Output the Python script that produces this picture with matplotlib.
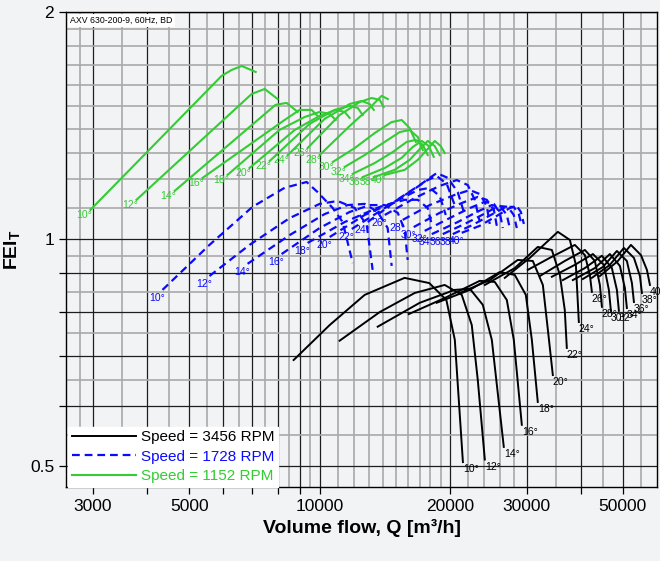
import matplotlib
matplotlib.use('Agg')
import matplotlib.pyplot as plt
from matplotlib.ticker import FixedLocator, FixedFormatter, NullFormatter

plt.rcParams['font.family'] = ['Liberation Sans', 'DejaVu Sans']
plt.rcParams['mathtext.fontset'] = 'custom'
plt.rcParams['mathtext.rm'] = 'Liberation Sans'
plt.rcParams['mathtext.bf'] = 'Liberation Sans:bold'

angles = [10, 12, 14, 16, 18, 20, 22, 24, 26, 28, 30, 32, 34, 36, 38, 40]

# 3456 RPM (black), volume flow [m3/h] and FEI per blade angle
q_3456 = [
    [8710, 10550, 12700, 15700, 17900, 19600, 20500, 21400],
    [11120, 13760, 16570, 19430, 21270, 22430, 23160, 24040],
    [13610, 17020, 20490, 22200, 23780, 24950, 26590],
    [16050, 19430, 23410, 25350, 27020, 28040, 29260],
    [18620, 22200, 26030, 28190, 29890, 30860, 31850],
    [21050, 24680, 28640, 31020, 32720, 33600, 34500],
    [24040, 28190, 31850, 34320, 35810, 36760, 37160],
    [26730, 30530, 35430, 37770, 38990, 39610],
    [30210, 33960, 38780, 40900, 42000, 42450],
    [32200, 36760, 40900, 43130, 44290, 44770],
    [34320, 38780, 42680, 45240, 46460, 46960],
    [36380, 40900, 44770, 47210, 48480, 49000],
    [38370, 43130, 46710, 49260, 50580, 51120],
    [40470, 45000, 48480, 51120, 52510, 53070],
    [42450, 46710, 50310, 53070, 54790, 55370],
    [44290, 48740, 52230, 55080, 56860, 57780],
]
fei_3456 = [
    [0.691, 0.769, 0.843, 0.888, 0.874, 0.830, 0.735, 0.506],
    [0.733, 0.800, 0.848, 0.869, 0.843, 0.769, 0.650, 0.510],
    [0.765, 0.823, 0.856, 0.859, 0.818, 0.735, 0.530],
    [0.795, 0.835, 0.880, 0.877, 0.830, 0.735, 0.567],
    [0.823, 0.856, 0.904, 0.896, 0.843, 0.735, 0.608],
    [0.848, 0.882, 0.938, 0.935, 0.869, 0.758, 0.660],
    [0.869, 0.915, 0.976, 0.967, 0.896, 0.805, 0.717],
    [0.888, 0.944, 1.022, 0.997, 0.924, 0.776],
    [0.910, 0.944, 0.982, 0.952, 0.896, 0.851],
    [0.893, 0.935, 0.967, 0.935, 0.869, 0.813],
    [0.891, 0.924, 0.955, 0.924, 0.856, 0.803],
    [0.882, 0.915, 0.950, 0.915, 0.856, 0.803],
    [0.882, 0.915, 0.955, 0.921, 0.861, 0.810],
    [0.885, 0.918, 0.964, 0.935, 0.874, 0.825],
    [0.888, 0.924, 0.973, 0.944, 0.893, 0.848],
    [0.893, 0.935, 0.982, 0.952, 0.910, 0.869],
]

# 1728 RPM (blue dashed)
q_1728 = [
    [4340, 5570, 7000, 8300, 9330, 9890, 10720, 11300, 11920],
    [5570, 6890, 8530, 10000, 11000, 12050, 12840, 13250],
    [6820, 8530, 10270, 11600, 12700, 13610, 14350, 14660],
    [8170, 10000, 11730, 13040, 14130, 15140, 15710, 15960],
    [9380, 11420, 13760, 15710, 16840, 17750, 18140],
    [10550, 12700, 14900, 16840, 17940, 18920, 19540],
    [11860, 14130, 16130, 17750, 18620, 19640, 20490],
    [12910, 15300, 17020, 18620, 19750, 20820, 21610],
    [14130, 16570, 18920, 20710, 21960, 22790, 23410],
    [15550, 17940, 20490, 22200, 23410, 24290, 24680],
    [16480, 18920, 21270, 23160, 24290, 25220, 25620],
    [17470, 19960, 22200, 24040, 25220, 26030, 26450],
    [18140, 20820, 23040, 24950, 26170, 27020, 27450],
    [19230, 21610, 23910, 25890, 27160, 28040, 28490],
    [20280, 22550, 24820, 26880, 28040, 28800, 29260],
    [21270, 23410, 25620, 27450, 28490, 29110, 29580],
]
fei_1728 = [
    [0.856, 0.982, 1.103, 1.169, 1.190, 1.154, 1.099, 1.053, 0.929],
    [0.893, 0.982, 1.066, 1.113, 1.123, 1.099, 1.044, 0.910],
    [0.927, 1.012, 1.079, 1.109, 1.113, 1.086, 1.034, 0.921],
    [0.955, 1.034, 1.086, 1.109, 1.109, 1.083, 1.028, 0.938],
    [0.988, 1.053, 1.103, 1.127, 1.127, 1.099, 1.044],
    [1.006, 1.076, 1.120, 1.161, 1.169, 1.140, 1.076],
    [1.031, 1.099, 1.154, 1.197, 1.212, 1.183, 1.109],
    [1.053, 1.133, 1.179, 1.223, 1.205, 1.154, 1.076],
    [1.076, 1.133, 1.176, 1.197, 1.179, 1.127, 1.053],
    [1.060, 1.109, 1.144, 1.161, 1.147, 1.106, 1.047],
    [1.037, 1.083, 1.116, 1.137, 1.127, 1.093, 1.041],
    [1.025, 1.066, 1.099, 1.120, 1.113, 1.083, 1.034],
    [1.015, 1.053, 1.086, 1.109, 1.103, 1.076, 1.034],
    [1.015, 1.047, 1.079, 1.106, 1.103, 1.076, 1.034],
    [1.015, 1.044, 1.076, 1.103, 1.103, 1.079, 1.041],
    [1.019, 1.041, 1.073, 1.099, 1.106, 1.086, 1.047],
]

# 1152 RPM (green)
q_1152 = [
    [2960, 5940, 6260, 6610, 7120],
    [3780, 6970, 7470, 8000],
    [4630, 7910, 8390, 8900],
    [5370, 8300, 8990, 9580, 9890],
    [6130, 8080, 9230, 10000, 10550, 10890],
    [6890, 8760, 10000, 10890, 11420, 11730],
    [7670, 9480, 10830, 11730, 12240, 12570],
    [8440, 10270, 11730, 12500, 13040, 13330],
    [9380, 11120, 12370, 13180, 13760, 14050],
    [10000, 11730, 13040, 13900, 14360],
    [10720, 12050, 13400, 14660, 15460, 16130, 16660],
    [11420, 12700, 14130, 15300, 16130, 16840, 17290],
    [11920, 13400, 14740, 15880, 16660, 17290, 17750],
    [12570, 14130, 15460, 16390, 17200, 17850, 18330],
    [13330, 14900, 16130, 17020, 17750, 18430, 18920],
    [14130, 15710, 16840, 17750, 18430, 19020, 19430],
]
fei_1152 = [
    [1.093, 1.645, 1.675, 1.696, 1.665],
    [1.127, 1.557, 1.581, 1.533],
    [1.158, 1.506, 1.515, 1.474],
    [1.205, 1.438, 1.483, 1.483, 1.456],
    [1.216, 1.395, 1.451, 1.474, 1.465, 1.438],
    [1.242, 1.395, 1.456, 1.483, 1.474, 1.447],
    [1.269, 1.421, 1.483, 1.501, 1.492, 1.460],
    [1.292, 1.443, 1.510, 1.524, 1.510, 1.483],
    [1.320, 1.460, 1.519, 1.538, 1.529, 1.496],
    [1.292, 1.412, 1.492, 1.548, 1.533],
    [1.265, 1.320, 1.382, 1.429, 1.438, 1.403, 1.345],
    [1.246, 1.292, 1.345, 1.386, 1.395, 1.365, 1.312],
    [1.220, 1.261, 1.304, 1.345, 1.353, 1.333, 1.292],
    [1.208, 1.242, 1.281, 1.324, 1.349, 1.328, 1.285],
    [1.208, 1.235, 1.273, 1.316, 1.349, 1.328, 1.292],
    [1.216, 1.235, 1.273, 1.316, 1.349, 1.328, 1.300],
]

x_major = [3000, 4000, 5000, 6000, 7000, 8000, 9000, 10000, 20000, 30000, 40000, 50000]
x_major_labels = ['3000', '', '5000', '', '', '', '', '10000', '20000', '30000', '', '50000']
x_minor = [2800, 3500, 4500, 5500, 6500, 7500, 8500, 9500,
           11000, 12000, 13000, 14000, 15000, 16000, 17000, 18000, 19000,
           22000, 24000, 26000, 28000, 35000, 45000, 55000]
y_major = [0.5, 0.6, 0.7, 0.8, 0.9, 1.0, 2.0]
y_major_labels = ['0.5', '', '', '', '', '1', '2']
y_minor = [0.55, 0.65, 0.75, 0.85, 0.95, 1.1, 1.2, 1.3, 1.4, 1.5, 1.6, 1.7, 1.8, 1.9]

BLACK = '#000000'
BLUE = '#0a0aff'
GREEN = '#33cc33'
BG = '#f2f3f5'

fig = plt.figure(figsize=(6.6, 5.61), dpi=100)
fig.patch.set_facecolor(BG)
ax = fig.add_axes([0.1, 0.132, 0.8955, 0.8467])
ax.set_facecolor(BG)
ax.set_xscale('log')
ax.set_yscale('log')
ax.set_xlim(2600, 60000)
ax.set_ylim(0.469, 2.0)

ax.xaxis.set_major_locator(FixedLocator(x_major))
ax.xaxis.set_major_formatter(FixedFormatter(x_major_labels))
ax.xaxis.set_minor_locator(FixedLocator(x_minor))
ax.xaxis.set_minor_formatter(NullFormatter())
ax.yaxis.set_major_locator(FixedLocator(y_major))
ax.yaxis.set_major_formatter(FixedFormatter(y_major_labels))
ax.yaxis.set_minor_locator(FixedLocator(y_minor))
ax.yaxis.set_minor_formatter(NullFormatter())

ax.grid(True, which='major', color='#1e1e1e', lw=0.9)
ax.grid(True, which='minor', color='#a9a9a9', lw=1.2)
ax.set_axisbelow(True)
ax.tick_params(which='major', direction='out', length=5, width=0.9, labelsize=12.5)
ax.tick_params(which='minor', length=0)
for s in ax.spines.values():
    s.set_color('black')
    s.set_linewidth(1.0)

# curves
for i, ang in enumerate(angles):
    ax.plot(q_3456[i], fei_3456[i], color=BLACK, lw=1.4,
            label='Speed = 3456 RPM' if i == 0 else None)
    ax.annotate(f'{ang}°', (q_3456[i][-1], fei_3456[i][-1]), xytext=(0, -1.5),
                textcoords='offset points', ha='left', va='top', fontsize=7.5, color=BLACK)
for i, ang in enumerate(angles):
    ax.plot(q_1728[i], fei_1728[i], color=BLUE, lw=1.6, linestyle=(0, (3.5, 2.2)),
            label='Speed = 1728 RPM' if i == 0 else None)
    ax.annotate(f'{ang}°', (q_1728[i][0], fei_1728[i][0]), xytext=(2, -2),
                textcoords='offset points', ha='right', va='top', fontsize=7.5, color=BLUE)
for i, ang in enumerate(angles):
    ax.plot(q_1152[i], fei_1152[i], color=GREEN, lw=1.5,
            label='Speed = 1152 RPM' if i == 0 else None)
    ax.annotate(f'{ang}°', (q_1152[i][0], fei_1152[i][0]), xytext=(1, 0),
                textcoords='offset points', ha='right', va='top', fontsize=7.5, color=GREEN)

ax.text(0.007, 0.992, 'AXV 630-200-9, 60Hz, BD', transform=ax.transAxes, fontsize=6.3,
        ha='left', va='top', bbox=dict(facecolor='white', edgecolor='none', pad=1.5))

leg = ax.legend(loc='lower left', bbox_to_anchor=(0.003, 0.0), fontsize=11,
                handlelength=4.2, handletextpad=0.35, borderpad=0.25, labelspacing=0.35,
                frameon=True, fancybox=False, framealpha=1, facecolor='white',
                edgecolor='white', borderaxespad=0)
for text, line in zip(leg.get_texts(), leg.get_lines()):
    text.set_color(line.get_color())

ax.set_xlabel('Volume flow, Q [m³/h]', fontsize=14, fontweight='bold', labelpad=4)
ax.set_ylabel(r'$\mathbf{FEI_T}$', fontsize=14, labelpad=6)

fig.savefig('out.png', dpi=100, facecolor=BG)
